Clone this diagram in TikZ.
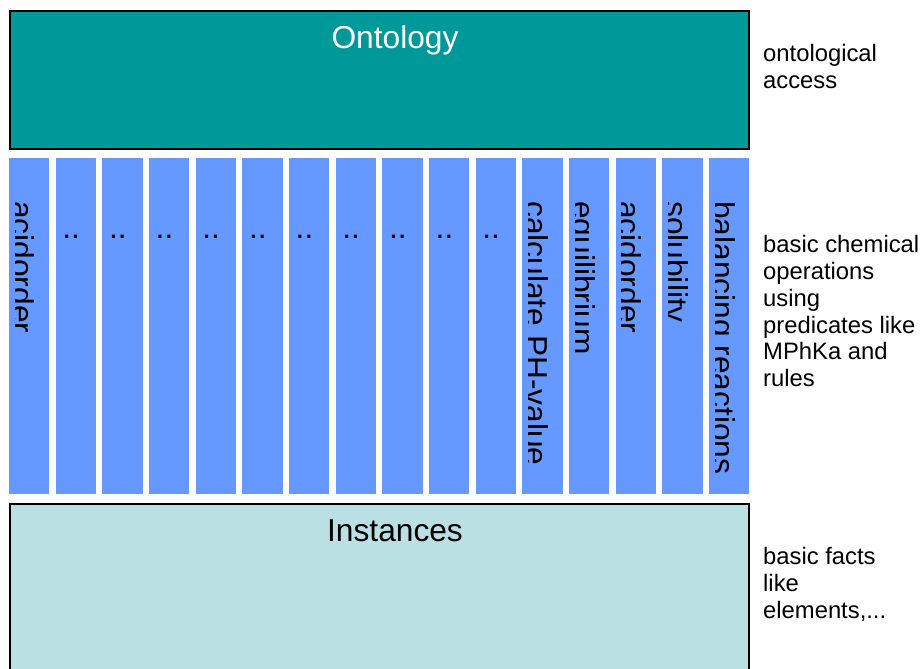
\documentclass[tikz,border=0pt]{standalone}
\usepackage{fontspec}
\setmainfont{Liberation Sans}
\definecolor{ontofill}{RGB}{0,153,153}
\definecolor{barfill}{RGB}{102,153,255}
\definecolor{instfill}{RGB}{187,224,227}
\begin{document}
\begin{tikzpicture}[x=1pt,y=-1pt,
  layer/.style={draw=black, line width=2pt, inner sep=0pt, anchor=north west},
  bar/.style={fill=barfill, draw=none, inner sep=0pt, outer sep=0pt, anchor=north west,
    minimum width=40.3pt, minimum height=336pt},
  bigtext/.style={font=\fontsize{31.7}{38}\selectfont, inner sep=0pt},
  bartext/.style={bigtext, rotate=-90, anchor=base west},
  dots/.style={bigtext, anchor=base west},
  note/.style={font=\fontsize{23.8}{26.8}\selectfont, align=left, inner sep=0pt, anchor=base west}]
\useasboundingbox (0,0) rectangle (922,669);
\clip (0,0) rectangle (922,669);

% upper layer: the ontology
\node[layer, fill=ontofill, minimum width=739pt, minimum height=138pt] (onto) at (9,10) {};
\node[bigtext, text=white, anchor=base] (ontolabel) at (395,48.3) {Ontology};

% lower layer: the instances (runs off the bottom edge)
\node[layer, fill=instfill, minimum width=739pt, minimum height=200pt] (inst) at (9,503) {};
\node[bigtext, anchor=base] (instlabel) at (395,541) {Instances};

% middle layer: one bar per operation
\foreach \i/\txt/\rot in {1/acidorder/1, 2/../0, 3/../0, 4/../0, 5/../0, 6/../0,
    7/../0, 8/../0, 9/../0, 10/../0, 11/../0, 12/calculate PH-value/1,
    13/equilibrium/1, 14/acidorder/1, 15/solubility/1, 16/balancing reactions/1} {
  \pgfmathsetmacro{\xl}{9+46.67*(\i-1)}
  \node[bar] (bar\i) at (\xl,158) {};
  \ifnum\rot=1
    \begin{scope}
      \clip (\xl+6,158) rectangle (\xl+40.3,494);
      \node[bartext] (op\i) at (\xl+3,201) {\txt};
    \end{scope}
  \else
    \node[dots] (op\i) at (\xl+6.5,238) {\txt};
  \fi
}

% explanations on the right (anchored at the baseline of their last line)
\node[note] (n1) at (763,88.3) {ontological\\access};
\node[note] (n2) at (763,386.7) {basic chemical\\operations\\using\\predicates like\\MPhKa and\\rules};
\node[note] (n3) at (763,618) {basic facts\\like\\elements,...};
\end{tikzpicture}
\end{document}
